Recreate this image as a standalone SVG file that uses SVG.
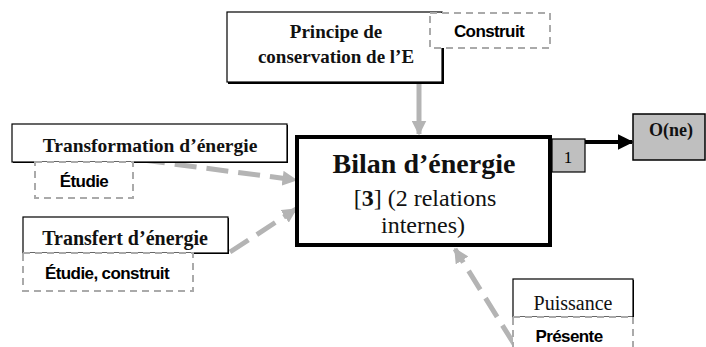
<svg xmlns="http://www.w3.org/2000/svg" width="706" height="347" viewBox="0 0 706 347">
<defs>
<style>
.box{fill:#fff;stroke:#000;stroke-width:1.2}
.tag{fill:#fff;stroke:#aaa;stroke-width:2;stroke-dasharray:7,5}
.t{font-family:"Liberation Serif",serif;font-weight:bold;fill:#111;text-anchor:middle}
.a{font-family:"Liberation Sans",Arial,sans-serif;font-weight:bold;fill:#000;text-anchor:middle;font-size:17px;letter-spacing:-0.6px}
.link{stroke:#b4b4b4;stroke-width:5;fill:none}
</style>
<marker id="ga" viewBox="0 0 10 10" refX="9" refY="5" markerWidth="3" markerHeight="3" orient="auto" markerUnits="strokeWidth"><path d="M0,0L10,5L0,10z" fill="#b4b4b4"/></marker>
<marker id="ba" viewBox="0 0 10 10" refX="9" refY="5" markerWidth="4" markerHeight="4" orient="auto" markerUnits="strokeWidth"><path d="M0,0L10,5L0,10z" fill="#000"/></marker>
</defs>
<g id="connectors">
<line class="link" x1="419" y1="84" x2="419" y2="134" marker-end="url(#ga)"/>
<line class="link" x1="143" y1="160" x2="296" y2="180" stroke-dasharray="22,10" marker-end="url(#ga)"/>
<line class="link" x1="230" y1="252" x2="296" y2="209" stroke-dasharray="22,10" marker-end="url(#ga)"/>
<line class="link" x1="514" y1="344" x2="455" y2="249" stroke-dasharray="22,10" marker-end="url(#ga)"/>
<line x1="550" y1="142" x2="632" y2="142" stroke="#000" stroke-width="4" marker-end="url(#ba)"/>
</g>
<g id="principe">
<rect x="228" y="13" width="216" height="71" fill="#000"/>
<rect class="box" x="227" y="12" width="215" height="70"/>
<text class="t" x="336" y="38" font-size="19">Principe de</text>
<text class="t" x="336" y="63" font-size="19">conservation de l’E</text>
</g>
<g id="construit">
<rect class="tag" x="430" y="13" width="120" height="35"/>
<text class="a" x="489" y="37">Construit</text>
</g>
<g id="bilan">
<rect x="297" y="137" width="253" height="108" fill="#fff" stroke="#000" stroke-width="4"/>
<text class="t" x="424" y="173" font-size="28">Bilan d’énergie</text>
<text x="425" y="206" font-family="Liberation Serif,serif" font-size="24" text-anchor="middle" fill="#111">[<tspan font-weight="bold">3</tspan>] (2 relations</text>
<text x="423" y="233" font-family="Liberation Serif,serif" font-size="24" text-anchor="middle" fill="#111">internes)</text>
</g>
<g id="num">
<rect x="552" y="139" width="33" height="33" fill="#bfbfbf" stroke="#000" stroke-width="1.2"/>
<text x="568" y="163" font-family="Liberation Serif,serif" font-size="17" text-anchor="middle">1</text>
</g>
<g id="one">
<rect x="633" y="114" width="72" height="46" fill="#bfbfbf" stroke="#000" stroke-width="1.5"/>
<text class="t" x="671" y="136" font-size="18">O(ne)</text>
</g>
<g id="transformation">
<rect x="13" y="125" width="275" height="38" fill="#000"/>
<rect class="box" x="12" y="124" width="275" height="38"/>
<text class="t" x="150" y="152" font-size="19.5">Transformation d’énergie</text>
</g>
<g id="etudie1">
<rect class="tag" x="35" y="162" width="98" height="36"/>
<text class="a" x="84" y="187">Étudie</text>
</g>
<g id="transfert">
<rect x="24" y="218" width="205" height="36" fill="#000"/>
<rect class="box" x="23" y="217" width="205" height="36"/>
<text class="t" x="125" y="245" font-size="20">Transfert d’énergie</text>
</g>
<g id="etudie2">
<rect class="tag" x="23" y="253" width="170" height="38"/>
<text class="a" x="107" y="279">Étudie, construit</text>
</g>
<g id="puissance">
<rect x="514" y="280" width="120" height="38" fill="#000"/>
<rect class="box" x="513" y="279" width="120" height="38"/>
<text x="573" y="310" font-family="Liberation Serif,serif" font-size="20" text-anchor="middle" fill="#111">Puissance</text>
</g>
<g id="presente">
<rect class="tag" x="513" y="317" width="120" height="40"/>
<text class="a" x="569" y="342" font-size="18">Présente</text>
</g>
</svg>
